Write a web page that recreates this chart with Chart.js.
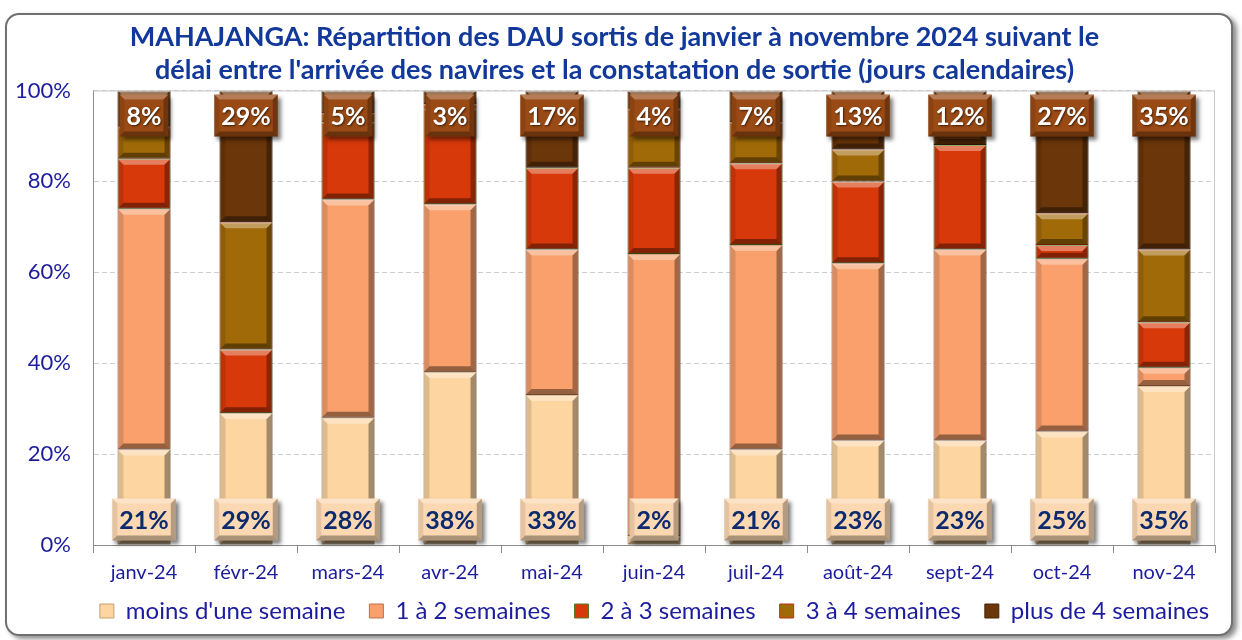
<!DOCTYPE html>
<html>
<head>
<meta charset="utf-8">
<script src="https://cdn.jsdelivr.net/npm/chart.js@4"></script>
<style>
  body { margin: 0; background: #fff; width: 1242px; height: 640px; overflow: hidden; }
  #cadre { position: absolute; left: 5px; top: 13px; width: 1224px; height: 619px;
           border: 2px solid #707070; border-radius: 14px;
           box-shadow: 4px 3px 5px rgba(0,0,0,0.45); background: #fff; }
  #chart { position: absolute; left: 0; top: 0; }
</style>
</head>
<body>
<div id="cadre"></div>
<canvas id="chart" width="1242" height="640"></canvas>
<script>
const mois = ['janv-24', 'févr-24', 'mars-24', 'avr-24', 'mai-24', 'juin-24',
  'juil-24', 'août-24', 'sept-24', 'oct-24', 'nov-24'];
const moinsUneSemaine = [21, 29, 28, 38, 33, 2, 21, 23, 23, 25, 35];
const unADeux = [53, 0, 48, 37, 32, 62, 45, 39, 42, 38, 4];
const deuxATrois = [11, 14, 17, 21, 18, 19, 18, 18, 23, 3, 10];
const troisAQuatre = [7, 28, 2, 1, 0, 13, 9, 7, 0, 7, 16];
const plusDeQuatre = [8, 29, 5, 3, 17, 4, 7, 13, 12, 27, 35];
const ticksY = [0, 20, 40, 60, 80, 100];

const bleu = '#1c1c9e';
Chart.defaults.font.family = 'Lato';

function poly(ctx, pts, col) {
  ctx.beginPath();
  ctx.moveTo(pts[0][0], pts[0][1]);
  for (let i = 1; i < pts.length; i++) ctx.lineTo(pts[i][0], pts[i][1]);
  ctx.closePath();
  ctx.fillStyle = col;
  ctx.fill();
}

// effet biseau type Excel
function biseau(ctx, l, t, w, h, b, fort) {
  const r = l + w, bas = t + h;
  b = Math.min(b, h / 2, w / 2);
  const k = fort || 1;
  poly(ctx, [[l, t], [r, t], [r - b, t + b], [l + b, t + b]], 'rgba(255,255,255,' + 0.35 * k + ')');
  poly(ctx, [[l, t], [l + b, t + b], [l + b, bas - b], [l, bas]], 'rgba(0,0,0,' + 0.12 * k + ')');
  poly(ctx, [[r, t], [r, bas], [r - b, bas - b], [r - b, t + b]], 'rgba(0,0,0,' + 0.35 * k + ')');
  poly(ctx, [[l, bas], [l + b, bas - b], [r - b, bas - b], [r, bas]], 'rgba(0,0,0,' + 0.4 * k + ')');
}

function boite(ctx, cx, top, texte, fond, couleurTexte) {
  ctx.font = 'bold 25px Lato';
  const w = ctx.measureText(texte).width + 14, h = 42;
  const l = cx - w / 2;
  ctx.save();
  ctx.shadowColor = 'rgba(0,0,0,0.5)';
  ctx.shadowBlur = 4;
  ctx.shadowOffsetX = 3;
  ctx.shadowOffsetY = 3;
  ctx.fillStyle = fond;
  ctx.fillRect(l, top, w, h);
  ctx.restore();
  biseau(ctx, l, top, w, h, 5, 0.8);
  ctx.save();
  if (couleurTexte === '#fff') {
    ctx.shadowColor = 'rgba(0,0,0,0.6)';
    ctx.shadowBlur = 2;
    ctx.shadowOffsetX = 1;
    ctx.shadowOffsetY = 1;
  }
  ctx.fillStyle = couleurTexte;
  ctx.textAlign = 'center';
  ctx.textBaseline = 'middle';
  ctx.fillText(texte, cx, top + h / 2 + 1);
  ctx.restore();
}

const decor = {
  id: 'decor',
  beforeInit(chart) {
    // légende plus compacte en hauteur, décalée vers la droite comme l'original
    const lg = chart.legend;
    const fit = lg.fit, draw = lg.draw;
    lg.fit = function () { fit.call(this); this.height -= 21; };
    lg.draw = function () {
      const t = this.top, h = this.height, l = this.left, r = this.right;
      this.top = t - 18;
      this.height = h + 40;
      this.left = l + 40;
      this.right = r + 40;
      draw.apply(this, arguments);
      this.top = t;
      this.height = h;
      this.left = l;
      this.right = r;
    };
  },
  afterDatasetsDraw(chart) {
    const ctx = chart.ctx;
    chart.data.datasets.forEach((ds, i) => {
      chart.getDatasetMeta(i).data.forEach(bar => {
        const p = bar.getProps(['x', 'y', 'base', 'width'], true);
        const h = Math.abs(p.base - p.y);
        if (h < 1) return;
        biseau(ctx, p.x - p.width / 2, Math.min(p.y, p.base), p.width, h, 6);
      });
    });
    const a = chart.chartArea;
    ctx.save();
    ctx.strokeStyle = '#c8c8c8';
    ctx.lineWidth = 1;
    ctx.beginPath();
    ctx.moveTo(a.left, a.top + 0.5);
    ctx.lineTo(a.right - 0.5, a.top + 0.5);
    ctx.lineTo(a.right - 0.5, a.bottom);
    ctx.stroke();
    ctx.restore();
    chart.getDatasetMeta(0).data.forEach((bar, j) => {
      const p = bar.getProps(['x', 'base'], true);
      boite(ctx, p.x, p.base - 46, moinsUneSemaine[j] + '%', '#fbd8b2', '#0c2a6e');
    });
    chart.getDatasetMeta(4).data.forEach((bar, j) => {
      const p = bar.getProps(['x', 'y'], true);
      boite(ctx, p.x, p.y + 4, plusDeQuatre[j] + '%', '#9a4a14', '#fff');
    });
  }
};

const serie = (label, data, fond, bord) => ({
  label, data, backgroundColor: fond, borderColor: bord, borderWidth: 1,
  borderSkipped: false, barPercentage: 0.52, categoryPercentage: 1
});

new Chart(document.getElementById('chart'), {
  type: 'bar',
  data: {
    labels: mois,
    datasets: [
      serie("moins d'une semaine", moinsUneSemaine, '#fcd5a0', '#c8a070'),
      serie('1 à 2 semaines', unADeux, '#f9a06c', '#c07048'),
      serie('2 à 3 semaines', deuxATrois, '#d8390a', '#5a7a1a'),
      serie('3 à 4 semaines', troisAQuatre, '#a16a08', '#c03010'),
      serie('plus de 4 semaines', plusDeQuatre, '#6b360a', '#4a2406')
    ]
  },
  options: {
    responsive: false,
    animation: false,
    layout: { padding: { left: 14, right: 27, bottom: 10, top: 0 } },
    plugins: {
      title: {
        display: true,
        text: ['MAHAJANGA: Répartition des DAU sortis de janvier à novembre 2024 suivant le',
          "délai entre l'arrivée des navires et la constatation de sortie (jours calendaires)"],
        color: '#12399a',
        font: { size: 27, weight: 'bold', lineHeight: 1.25 },
        padding: { top: 20, bottom: 3 }
      },
      legend: {
        position: 'bottom',
        labels: {
          color: bleu, font: { size: 24 }, boxWidth: 14, boxHeight: 14, padding: 24
        }
      },
      tooltip: { enabled: false }
    },
    scales: {
      x: {
        stacked: true,
        grid: { display: true, drawOnChartArea: false, offset: true, tickLength: 8, color: '#8c8c8c' },
        border: { color: '#8c8c8c' },
        ticks: { color: bleu, font: { size: 20 }, padding: 8 }
      },
      y: {
        stacked: true,
        min: 0, max: 100,
        afterBuildTicks: s => { s.ticks = ticksY.map(v => ({ value: v })); },
        afterFit: s => { s.width = 79; },
        grid: { color: '#cfcfcf', drawTicks: false },
        border: { color: '#8c8c8c', dash: [5, 3] },
        ticks: { color: bleu, font: { size: 22 }, padding: 22, callback: v => v + '%' }
      }
    }
  },
  plugins: [decor]
});
</script>
</body>
</html>
